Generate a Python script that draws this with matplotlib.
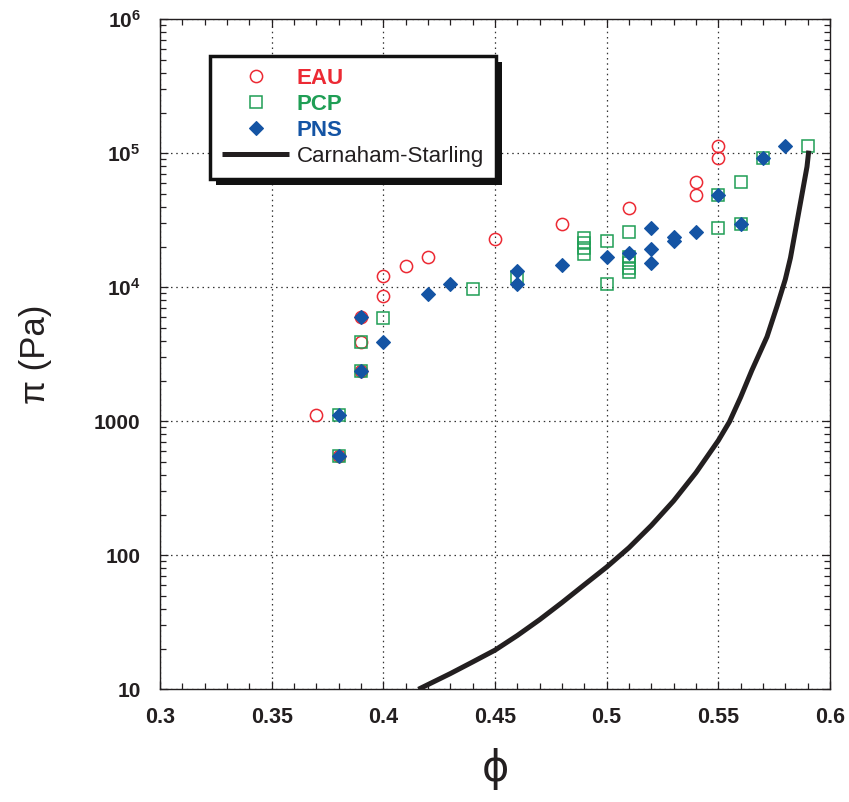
import matplotlib
matplotlib.use("Agg")
import matplotlib.pyplot as plt
from matplotlib.ticker import FixedLocator, MultipleLocator, LogLocator, NullFormatter
from matplotlib.patches import Rectangle
from matplotlib.transforms import IdentityTransform

plt.rcParams['font.family'] = ['Liberation Sans', 'DejaVu Sans']
plt.rcParams['mathtext.fontset'] = 'custom'
plt.rcParams['mathtext.rm'] = 'Liberation Sans:bold'
plt.rcParams['mathtext.it'] = 'Liberation Sans:italic'
plt.rcParams['mathtext.bf'] = 'Liberation Sans:bold'

# ---- data ----
eau_phi = [0.37, 0.38, 0.39, 0.39, 0.39, 0.40, 0.40, 0.41, 0.42, 0.45, 0.48, 0.51, 0.54, 0.54, 0.55, 0.55]
eau_pi = [1115, 551, 5970, 3900, 2360, 12100, 8570, 14350, 16750, 22800, 29500, 38900, 60800, 48600, 112700, 91800]

pcp_phi = [0.38, 0.38, 0.39, 0.39, 0.40, 0.44, 0.46, 0.49, 0.49, 0.49, 0.49, 0.50, 0.50,
           0.51, 0.51, 0.51, 0.51, 0.51, 0.55, 0.55, 0.56, 0.56, 0.57, 0.59]
pcp_pi = [1115, 551, 3900, 2360, 5900, 9750, 11900, 23400, 21500, 19500, 17600, 22300, 10500,
          26000, 16800, 15300, 14000, 12900, 48600, 27600, 61500, 29500, 91800, 112700]

pns_phi = [0.38, 0.38, 0.39, 0.39, 0.40, 0.42, 0.43, 0.46, 0.46, 0.48, 0.50, 0.51,
           0.52, 0.52, 0.52, 0.53, 0.53, 0.54, 0.55, 0.56, 0.57, 0.58]
pns_pi = [1115, 551, 5970, 2360, 3900, 8870, 10500, 13150, 10500, 14600, 16750, 18000,
          27600, 19200, 15100, 23600, 22000, 25900, 48600, 29500, 91800, 112700]

cs_phi = [0.4157, 0.430, 0.440, 0.450, 0.460, 0.470, 0.480, 0.490, 0.500, 0.510,
          0.520, 0.530, 0.540, 0.550, 0.555, 0.560, 0.565, 0.5718, 0.5763, 0.580,
          0.5823, 0.586, 0.5897, 0.5905]
cs_pi = [10, 13.1, 16.0, 19.6, 25.2, 33.1, 44.4, 60.3, 81.7, 114,
         167, 255, 414, 719, 993, 1514, 2399, 4276, 7244, 11480,
         16600, 36300, 79400, 104700]

x_ticks = [0.3, 0.35, 0.4, 0.45, 0.5, 0.55, 0.6]
x_ticklabels = ['0.3', '0.35', '0.4', '0.45', '0.5', '0.55', '0.6']
y_ticks = [10, 100, 1000, 1e4, 1e5, 1e6]
y_ticklabels = ['10', '100', '1000', r'$\mathregular{10^{4}}$', r'$\mathregular{10^{5}}$', r'$\mathregular{10^{6}}$']

RED = '#ec2a34'
GREEN = '#1f9e55'
BLUE = '#1454a4'
INK = '#231f20'

fig = plt.figure(figsize=(8.49, 8.02), dpi=100)
ax = fig.add_axes([160/849, 1-689.3/802, 670/849, 670/802])

ax.plot(eau_phi, eau_pi, linestyle='none', marker='o', ms=8.8, mfc='none', mec=RED, mew=1.1, label='EAU', zorder=3)
ax.plot(pcp_phi, pcp_pi, linestyle='none', marker='s', ms=8.0, mfc='none', mec=GREEN, mew=1.1, label='PCP', zorder=4)
ax.plot(pns_phi, pns_pi, linestyle='none', marker='D', ms=6.8, mfc=BLUE, mec=BLUE, mew=0.8, label='PNS', zorder=5)
ax.plot(cs_phi, cs_pi, color=INK, lw=3.6, solid_capstyle='butt', solid_joinstyle='round',
        label='Carnaham-Starling', zorder=6)

ax.set_yscale('log')
ax.set_xlim(0.3, 0.6)
ax.set_ylim(10, 1e6)

ax.xaxis.set_major_locator(FixedLocator(x_ticks))
ax.set_xticklabels(x_ticklabels, fontweight='bold')
ax.xaxis.set_minor_locator(MultipleLocator(0.01))
ax.yaxis.set_major_locator(FixedLocator(y_ticks))
ax.set_yticklabels(y_ticklabels, fontweight='bold')
ax.yaxis.set_minor_locator(LogLocator(base=10, subs=[2, 3, 4, 5, 6, 7, 8, 9], numticks=20))
ax.yaxis.set_minor_formatter(NullFormatter())

ax.tick_params(which='both', direction='in', top=True, right=True, width=0.9, color=INK)
ax.tick_params(which='major', length=6)
ax.tick_params(which='minor', length=4)
ax.tick_params(axis='x', which='major', labelsize=15.5, pad=13, labelcolor=INK)
ax.tick_params(axis='y', which='major', labelsize=15, pad=14, labelcolor=INK)

ax.grid(True, which='major', linestyle=(0, (1.2, 3)), color='#333333', linewidth=0.9)
for s in ax.spines.values():
    s.set_linewidth(1.0)
    s.set_color(INK)

ax.set_xlabel('ϕ', fontsize=30, labelpad=14, family=['DejaVu Sans'], color=INK)
ax.set_ylabel('π (Pa)', fontsize=25, labelpad=30, color=INK)

leg = ax.legend(loc='upper left', bbox_to_anchor=((210-160)/670, (689.3-56)/670), borderaxespad=0,
                fontsize=16, frameon=True, fancybox=False, handlelength=3.0, handletextpad=0.35,
                labelspacing=0.22, borderpad=0.55, numpoints=1)
leg.get_frame().set_edgecolor('#111111')
leg.get_frame().set_linewidth(2.5)
leg.get_frame().set_alpha(1)
leg.set_zorder(10)
for t, c in zip(leg.get_texts(), [RED, GREEN, BLUE, INK]):
    t.set_color(c)
for t in leg.get_texts()[:3]:
    t.set_fontweight('bold')

fig.canvas.draw()
bb = leg.get_window_extent()
shadow = Rectangle((bb.x0 + 6, bb.y0 - 6), bb.width, bb.height, transform=IdentityTransform(),
                   facecolor='#111111', edgecolor='none', zorder=9.9, clip_on=False)
ax.add_artist(shadow)

fig.savefig('out.png', dpi=100)
